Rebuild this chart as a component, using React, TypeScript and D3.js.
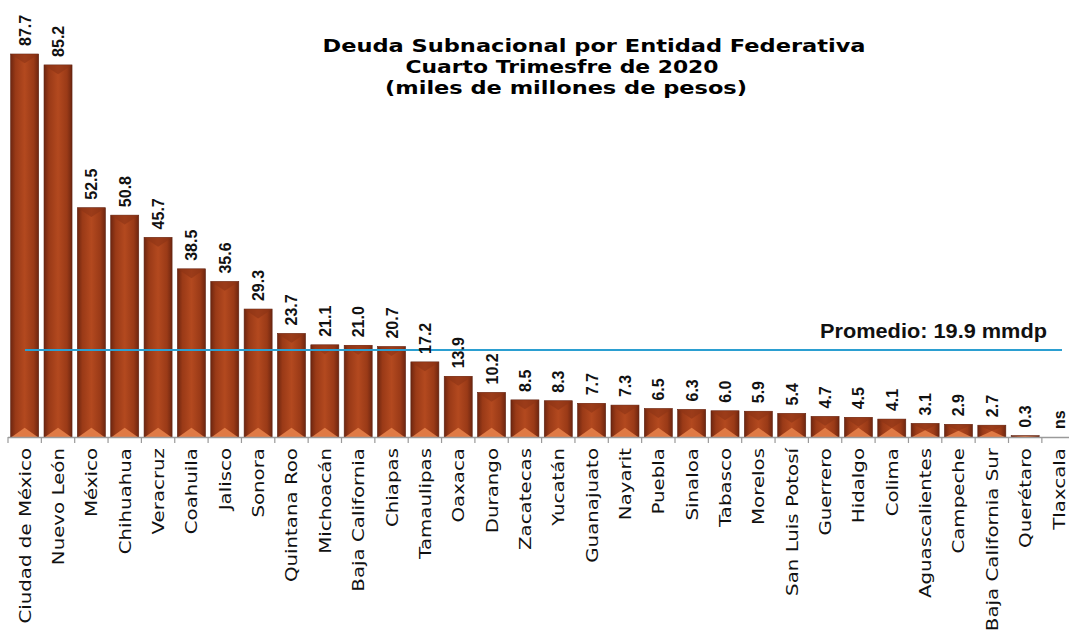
import React from 'react'
import * as d3 from 'd3'

const estados = [
  'Ciudad de México', 'Nuevo León', 'México', 'Chihuahua', 'Veracruz', 'Coahuila',
  'Jalisco', 'Sonora', 'Quintana Roo', 'Michoacán', 'Baja California', 'Chiapas',
  'Tamaulipas', 'Oaxaca', 'Durango', 'Zacatecas', 'Yucatán', 'Guanajuato', 'Nayarit',
  'Puebla', 'Sinaloa', 'Tabasco', 'Morelos', 'San Luis Potosí', 'Guerrero', 'Hidalgo',
  'Colima', 'Aguascalientes', 'Campeche', 'Baja California Sur', 'Querétaro', 'Tlaxcala'
]
const deuda = [
  87.7, 85.2, 52.5, 50.8, 45.7, 38.5, 35.6, 29.3, 23.7, 21.1, 21.0, 20.7,
  17.2, 13.9, 10.2, 8.5, 8.3, 7.7, 7.3, 6.5, 6.3, 6.0, 5.9, 5.4, 4.7, 4.5,
  4.1, 3.1, 2.9, 2.7, 0.3, 0
]
const etiquetas = [
  '87.7', '85.2', '52.5', '50.8', '45.7', '38.5', '35.6', '29.3', '23.7', '21.1', '21.0', '20.7',
  '17.2', '13.9', '10.2', '8.5', '8.3', '7.7', '7.3', '6.5', '6.3', '6.0', '5.9', '5.4', '4.7', '4.5',
  '4.1', '3.1', '2.9', '2.7', '0.3', 'ns'
]
const promedio = 19.9
const titulo = ['Deuda Subnacional por Entidad Federativa', 'Cuarto Trimesfre de 2020', '(miles de millones de pesos)']

const width = 1069
const height = 636
const baseY = 437

const x = d3.scaleBand<string>()
  .domain(estados)
  .range([8, 8 + 33.35 * estados.length])
  .paddingInner(0.16)
  .paddingOuter(0.08)

// y=0 en la linea base
const y = d3.scaleLinear()
  .domain([0, 87.7])
  .range([baseY, 54])

export default function App() {
  const bw = x.bandwidth()
  const step = x.step()
  const boundaries = estados.map((_, i) => 8 + i * step).concat([8 + estados.length * step])

  return (
    <svg width={width} height={height} style={{ position: 'absolute', left: 0, top: 0, background: '#fff' }}>
      <defs>
        <linearGradient id='barGrad' x1='0' x2='1' y1='0' y2='0'>
          <stop offset='0' stopColor='#6e2610' />
          <stop offset='0.18' stopColor='#9a3a17' />
          <stop offset='0.5' stopColor='#b3491f' />
          <stop offset='0.82' stopColor='#9a3a17' />
          <stop offset='1' stopColor='#6e2610' />
        </linearGradient>
      </defs>

      {/* titulo */}
      <g fontFamily='DejaVu Sans' fontWeight='bold' fontSize={18} fill='#000'>
        <text x={594} y={52} textAnchor='middle' textLength={543} lengthAdjust='spacingAndGlyphs'>{titulo[0]}</text>
        <text x={562} y={73} textAnchor='middle' textLength={313} lengthAdjust='spacingAndGlyphs'>{titulo[1]}</text>
        <text x={566} y={94} textAnchor='middle' textLength={362} lengthAdjust='spacingAndGlyphs'>{titulo[2]}</text>
      </g>

      {/* barras */}
      {estados.map((d, i) => {
        const x0 = x(d) as number
        const top = y(deuda[i])
        const h = baseY - top
        if (h <= 0) return null
        const tri = Math.min(bw / 3, h / 2)
        return (
          <g key={d}>
            <rect x={x0} y={top} width={bw} height={h} fill='url(#barGrad)' stroke='#5c2010' strokeWidth={0.6} />
            <polygon
              points={`${x0},${top} ${x0 + bw},${top} ${x0 + bw / 2},${top + tri}`}
              fill='#8c3415' opacity={0.6}
            />
            <polygon
              points={`${x0 + 1},${baseY} ${x0 + bw - 1},${baseY} ${x0 + bw / 2},${baseY - tri}`}
              fill='#e07a45'
            />
          </g>
        )
      })}

      {/* eje */}
      <line x1={8} x2={width} y1={baseY + 0.5} y2={baseY + 0.5} stroke='#9a9a9a' strokeWidth={1.5} />
      {boundaries.map((b, i) => (
        <line key={i} x1={b} x2={b} y1={baseY} y2={baseY + 6} stroke='#9a9a9a' strokeWidth={1.2} />
      ))}

      {/* linea de promedio */}
      <line x1={25} x2={1062} y1={y(promedio)} y2={y(promedio)} stroke='#2b9fd1' strokeWidth={2} />
      <text x={820} y={338} fontFamily='Liberation Sans' fontWeight='bold' fontSize={20}
        textLength={227} lengthAdjust='spacingAndGlyphs' fill='#111'>
        Promedio: {promedio} mmdp
      </text>

      {/* valores */}
      {estados.map((d, i) => {
        const cx = (x(d) as number) + bw / 2 + 6
        return (
          <text key={d} transform={`translate(${cx},${y(deuda[i]) - 8}) rotate(-90)`}
            fontFamily='Liberation Sans' fontWeight='bold' fontSize={16} fill='#111'>
            {etiquetas[i]}
          </text>
        )
      })}

      {/* categorias */}
      {estados.map((d) => {
        const cx = (x(d) as number) + bw / 2 + 6
        return (
          <text key={d} transform={`translate(${cx},448) rotate(-90) scale(1.2,1)`}
            textAnchor='end' fontFamily='DejaVu Sans' fontSize={16.5} fill='#111'>
            {d}
          </text>
        )
      })}
    </svg>
  )
}
